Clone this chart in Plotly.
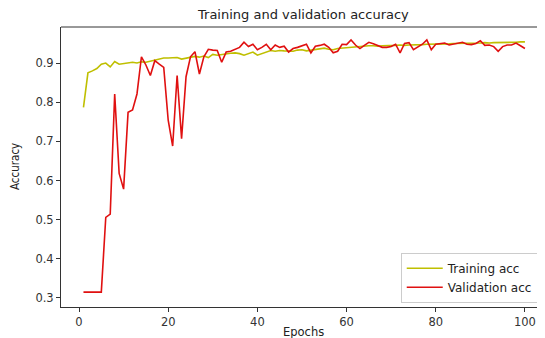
import plotly.graph_objects as go

epochs = list(range(1, 101))

train_acc = [
    0.787, 0.875, 0.880, 0.886, 0.897, 0.900, 0.890, 0.904, 0.897, 0.899,
    0.900, 0.902, 0.900, 0.903, 0.902, 0.905, 0.907, 0.911, 0.913, 0.913,
    0.913, 0.914, 0.910, 0.912, 0.915, 0.917, 0.915, 0.918, 0.914, 0.922,
    0.920, 0.922, 0.924, 0.925, 0.926, 0.924, 0.920, 0.924, 0.928, 0.920,
    0.924, 0.926, 0.932, 0.930, 0.932, 0.931, 0.931, 0.930, 0.933, 0.934,
    0.931, 0.933, 0.934, 0.936, 0.938, 0.935, 0.934, 0.937, 0.938, 0.940,
    0.941, 0.941, 0.943, 0.943, 0.944, 0.944, 0.943, 0.944, 0.944, 0.945,
    0.945, 0.946, 0.945, 0.946, 0.946, 0.947, 0.947, 0.948, 0.948, 0.948,
    0.949, 0.949, 0.949, 0.950, 0.950, 0.950, 0.950, 0.951, 0.951, 0.951,
    0.952, 0.951, 0.952, 0.952, 0.952, 0.953, 0.953, 0.953, 0.954, 0.954,
]

val_acc = [
    0.315, 0.315, 0.315, 0.315, 0.315, 0.506, 0.514, 0.821, 0.618, 0.578,
    0.774, 0.780, 0.821, 0.916, 0.895, 0.868, 0.906, 0.897, 0.889, 0.754,
    0.688, 0.868, 0.707, 0.865, 0.916, 0.929, 0.872, 0.916, 0.935, 0.933,
    0.932, 0.902, 0.928, 0.930, 0.934, 0.940, 0.953, 0.942, 0.948, 0.934,
    0.940, 0.948, 0.934, 0.946, 0.940, 0.943, 0.928, 0.937, 0.940, 0.944,
    0.948, 0.926, 0.943, 0.945, 0.948, 0.940, 0.926, 0.930, 0.948, 0.947,
    0.959, 0.946, 0.937, 0.945, 0.953, 0.949, 0.945, 0.940, 0.940, 0.942,
    0.948, 0.926, 0.950, 0.952, 0.934, 0.940, 0.948, 0.959, 0.934, 0.948,
    0.950, 0.951, 0.946, 0.948, 0.950, 0.953, 0.948, 0.947, 0.950, 0.957,
    0.945, 0.946, 0.942, 0.930, 0.942, 0.946, 0.946, 0.951, 0.944, 0.937,
]

x_ticks = [0, 20, 40, 60, 80, 100]
y_ticks = [0.3, 0.4, 0.5, 0.6, 0.7, 0.8, 0.9]

font_family = "DejaVu Sans"
axis_color = "#333333"

fig = go.Figure()
fig.add_trace(go.Scatter(x=epochs, y=train_acc, mode="lines", name="Training acc",
                         line=dict(color="#bfbf00", width=1.6)))
fig.add_trace(go.Scatter(x=epochs, y=val_acc, mode="lines", name="Validation acc",
                         line=dict(color="#e01010", width=1.6)))

# The page body has an 8px default margin, so the figure is sized to the visible area.
fig.update_layout(
    width=537, height=330,
    margin=dict(l=53, r=0, t=19, b=31),
    paper_bgcolor="white", plot_bgcolor="white",
    font=dict(family=font_family, size=11, color="#333333"),
    showlegend=True,
    legend=dict(x=0.985, y=0.015, xanchor="right", yanchor="bottom",
                bgcolor="rgba(255,255,255,0.85)", bordercolor="#cccccc", borderwidth=1,
                font=dict(size=12, color="#222222"), itemwidth=36,
                tracegroupgap=0),
    xaxis=dict(range=[-4.04, 104.5], tickvals=x_ticks, showgrid=False, zeroline=False,
               showline=True, linecolor=axis_color, linewidth=1,
               ticks="outside", ticklen=4, tickcolor=axis_color,
               tickfont=dict(size=11.5, color="#333333")),
    yaxis=dict(range=[0.277, 0.992], tickvals=y_ticks, ticktext=[f"{v:.1f}" for v in y_ticks],
               showgrid=False, zeroline=False,
               showline=True, linecolor=axis_color, linewidth=1,
               ticks="outside", ticklen=4, tickcolor=axis_color,
               tickfont=dict(size=11.5, color="#333333")),
    shapes=[dict(type="line", xref="paper", yref="paper", x0=0, x1=1, y0=1, y1=1,
                 line=dict(color=axis_color, width=1))],
    annotations=[
        dict(text="Training and validation accuracy", xref="paper", yref="paper",
             x=0.5, y=1, yanchor="bottom", yshift=3, showarrow=False,
             font=dict(size=13, color="#222222")),
        dict(text="Epochs", xref="paper", yref="paper", x=0.5, y=0, yanchor="top",
             yshift=-16, showarrow=False, font=dict(size=11.5, color="#222222")),
        dict(text="Accuracy", xref="paper", yref="paper", x=0, y=0.5, xanchor="center",
             xshift=-46, textangle=-90, showarrow=False,
             font=dict(family="DejaVu Sans Condensed, DejaVu Sans", size=11.5,
                       color="#222222")),
    ],
)

fig.write_html("out.html")
